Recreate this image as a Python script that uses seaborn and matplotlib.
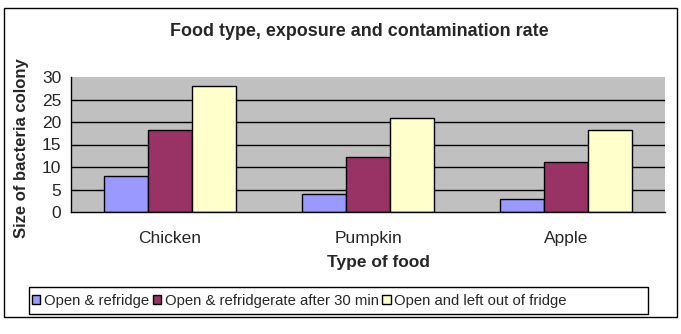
import matplotlib
matplotlib.use("Agg")
import matplotlib.pyplot as plt
import matplotlib.patches as mpatches
import seaborn as sns
import pandas as pd

foods = ["Chicken", "Pumpkin", "Apple"]
series = ["Open & refridge", "Open & refridgerate after 30 min", "Open and left out of fridge"]
open_refridge = [8, 4, 3]
open_refridge_30 = [18.3, 12.3, 11.1]
left_out = [28, 20.8, 18.2]
colors = ["#9999FF", "#993366", "#FFFFCC"]
yticks = [0, 5, 10, 15, 20, 25, 30]

rows = []
for name, vals in zip(series, [open_refridge, open_refridge_30, left_out]):
    for f, v in zip(foods, vals):
        rows.append({"Food": f, "Series": name, "Value": v})
df = pd.DataFrame(rows)

sns.set_style("white")
plt.rcParams['font.family'] = ['Liberation Sans', 'DejaVu Sans']

W, H = 681, 334
fig = plt.figure(figsize=(W / 100, H / 100), dpi=100)
ax = fig.add_axes([71 / W, 1 - 212 / H, (665 - 71) / W, (212 - 77) / H])
ax.set_facecolor("#C0C0C0")

sns.barplot(data=df, x="Food", y="Value", hue="Series", order=foods,
            hue_order=series, palette=colors, width=0.667, ax=ax,
            edgecolor="black", linewidth=1, saturation=1, legend=False)

ax.set_xlim(-0.5, 2.5)
ax.set_ylim(0, 30)
ax.set_yticks(yticks)
ax.set_yticklabels([str(t) for t in yticks], fontsize=12.5)
for t in yticks[1:-1]:
    ax.axhline(t, color="black", linewidth=1, zorder=0.5)
ax.set_axisbelow(True)

ax.set_xticks(range(len(foods)))
ax.set_xticklabels(foods, fontsize=12.5)
ax.set_xticks([-0.5, 0.5, 1.5, 2.5], minor=True)
ax.tick_params(axis="x", which="major", length=0, pad=14)
ax.tick_params(axis="x", which="minor", length=5, width=1, color="black", direction="out")
ax.tick_params(axis="y", length=5, width=1, color="black", direction="out", pad=2)
ax.set_xlabel("")
ax.set_ylabel("")

for s in ["top", "right"]:
    ax.spines[s].set_visible(False)
for s in ["left", "bottom"]:
    ax.spines[s].set_color("black")
    ax.spines[s].set_linewidth(1)

fig.text(359 / W, 1 - 31 / H, "Food type, exposure and contamination rate",
         ha="center", va="center", fontsize=12.9, fontweight="bold")
fig.text(378 / W, 1 - 263 / H, "Type of food", ha="center", va="center",
         fontsize=12.5, fontweight="bold")
fig.text(22 / W, 1 - 148 / H, "Size of bacteria colony", ha="center", va="center",
         rotation=90, fontsize=12, fontweight="bold")

handles = [mpatches.Patch(facecolor=c, edgecolor="black", linewidth=1) for c in colors]
leg = fig.legend(handles, series, loc="center left", ncol=3,
                 bbox_to_anchor=(32 / W, 1 - 300.5 / H),
                 fontsize=10.7, frameon=False,
                 handlelength=0.55, handleheight=0.55, handletextpad=0.25,
                 columnspacing=0.25, borderpad=0, borderaxespad=0)

fig.patches.append(mpatches.Rectangle((29 / W, 1 - 314 / H), 619 / W, 27 / H,
                                      transform=fig.transFigure, fill=False,
                                      edgecolor="black", linewidth=1))
fig.patches.append(mpatches.Rectangle((4 / W, 1 - 317 / H), 673 / W, 309 / H,
                                      transform=fig.transFigure, fill=False,
                                      edgecolor="black", linewidth=1))

fig.savefig("out.png", dpi=100, facecolor="white")
